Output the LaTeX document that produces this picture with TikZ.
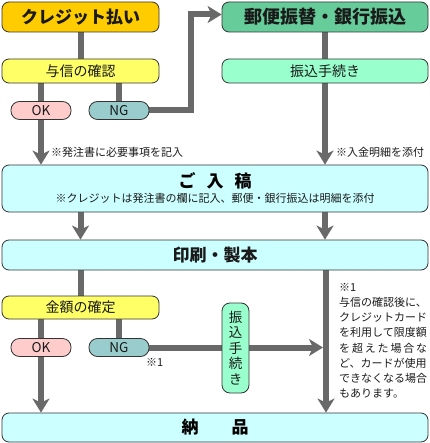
\documentclass[tikz,border=0pt]{standalone}
\usepackage{fontspec}
\setmainfont{Noto Sans CJK JP}
\usetikzlibrary{arrows.meta}
\definecolor{orangec}{HTML}{FFCC00}
\definecolor{greenc}{HTML}{66CC99}
\definecolor{yellowc}{HTML}{FFFF66}
\definecolor{lgreenc}{HTML}{99FFCC}
\definecolor{cyanc}{HTML}{CCFFFF}
\definecolor{pinkc}{HTML}{FFCCCC}
\definecolor{tealc}{HTML}{99CCCC}
\definecolor{linecol}{HTML}{696969}
\definecolor{bordercol}{HTML}{333333}
\definecolor{textc}{HTML}{1A1A1A}
\pgfdeclarelayer{bg}
\pgfsetlayers{bg,main}
\begin{document}
\begin{tikzpicture}[x=1pt,y=-1pt,
  box/.style={draw=bordercol, line width=0.8pt, rounded corners=7pt, inner sep=0pt, text=textc},
  pill/.style={box, rounded corners=8.5pt, minimum width=60pt, minimum height=18pt, font=\fontsize{13.5}{13.5}\selectfont},
  big/.style={font=\bfseries\fontsize{17}{17}\selectfont},
  mid/.style={font=\fontsize{14}{14}\selectfont},
  note/.style={inner sep=0pt, text=textc, font=\fontsize{11}{11}\selectfont},
  conn/.style={draw=linecol, line width=6pt},
  arr/.style={conn, -{Stealth[length=14pt,width=17pt,inset=4pt]}},
]
\useasboundingbox (0,0) rectangle (429,443);

% top row
\node[box, fill=orangec, minimum width=157pt, minimum height=30pt, big] (credit) at (80.5,17) {クレジット払い};
\node[box, fill=greenc, minimum width=206pt, minimum height=30pt, font=\bfseries\fontsize{18}{18}\selectfont] (yubin) at (325,17) {郵便振替・銀行振込};
\node[box, fill=yellowc, minimum width=157pt, minimum height=24pt, mid] (yoshin) at (80.5,71) {与信の確認};
\node[box, fill=lgreenc, minimum width=206pt, minimum height=24pt, mid] (furi) at (325,71) {振込手続き};
\node[pill, fill=pinkc] (ok1) at (41,110.5) {OK};
\node[pill, fill=tealc] (ng1) at (119,110.5) {NG};

\node[note, anchor=west] (n1) at (51,152) {※発注書に必要事項を記入};
\node[note, anchor=west] (n2) at (336,152) {※入金明細を添付};

% nyuko
\node[box, fill=cyanc, minimum width=426pt, minimum height=47pt] (nyuko) at (215,188.5) {};
\node[inner sep=0pt, big] (nyukot) at (215,181) {ご\hspace{11pt}入\hspace{11pt}稿};
\node[note] (nyukos) at (215,198) {※クレジットは発注書の欄に記入、郵便・銀行振込は明細を添付};

% insatsu
\node[box, fill=cyanc, minimum width=426pt, minimum height=30pt, big] (insatsu) at (215,255) {印刷・製本};
\node[box, fill=yellowc, minimum width=157pt, minimum height=23pt, mid] (kingaku) at (80.5,307.5) {金額の確定};
\node[pill, fill=pinkc] (ok2) at (41,347.5) {OK};
\node[pill, fill=tealc] (ng2) at (119,347.5) {NG};
\node[note, anchor=west] (n3) at (146,362) {※1};
\node[box, fill=lgreenc, rounded corners=8pt, minimum width=27pt, minimum height=90pt, align=center, font=\fontsize{13.5}{15.5}\selectfont] (vfuri) at (235.5,348) {振\\込\\手\\続\\き};

\node[box, fill=cyanc, minimum width=426pt, minimum height=29pt] (nouhin) at (215,427.5) {};
\node[inner sep=0pt, big] (nouhint) at (215,427.5) {納\hspace{33pt}品};

% right note
\node[note, anchor=west] (r0) at (339,287) {※1};
\node[note, anchor=west] (r1) at (339,302) {与信の確認後に、};
\node[note, anchor=west] (r2) at (339,317) {クレジットカード};
\node[note, anchor=west] (r3) at (339,332.5) {を利用して限度額};
\node[note, anchor=west] (r4) at (339,348) {\makebox[88pt][s]{を\hfill 超\hfill え\hfill た\hfill 場\hfill 合\hfill な}};
\node[note, anchor=west] (r5) at (339,363) {ど、カードが使用};
\node[note, anchor=west] (r6) at (339,378.5) {できなくなる場合};
\node[note, anchor=west] (r7) at (339,393.5) {もあります。};

\coordinate (ngturn) at (191,14.5);
\coordinate (vx) at (326,0);
\coordinate (hit) at (323,347.5);

\begin{pgfonlayer}{bg}
\draw[conn] (credit.south) -- (yoshin.north);
\draw[conn] (yoshin.south -| ok1) -- (ok1.north);
\draw[conn] (yoshin.south -| ng1) -- (ng1.north);
\draw[arr] (ng1.east) -| (ngturn) -- (ngturn -| yubin.west);
\draw[arr] (ok1.south) -- (ok1.south |- nyuko.north);
\draw[conn] (yubin.south) -- (furi.north);
\draw[arr] (furi.south) -- (furi.south |- nyuko.north);
\draw[arr] (nyuko.south -| credit) -- (insatsu.north -| credit);
\draw[arr] (nyuko.south -| yubin) -- (insatsu.north -| yubin);
\draw[conn] (insatsu.south -| credit) -- (kingaku.north);
\draw[conn] (kingaku.south -| ok2) -- (ok2.north);
\draw[conn] (kingaku.south -| ng2) -- (ng2.north);
\draw[arr] (ok2.south) -- (ok2.south |- nouhin.north);
\draw[arr] (insatsu.south -| vx) -- (nouhin.north -| vx);
\draw[arr] (ng2.east) -- (hit);
\end{pgfonlayer}
\end{tikzpicture}
\end{document}
